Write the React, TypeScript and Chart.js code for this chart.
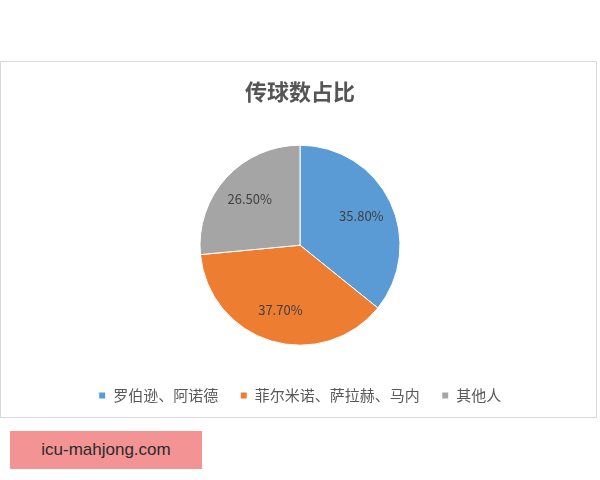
import React, { useEffect, useRef } from 'react'
import Chart from 'chart.js/auto'

const title = '传球数占比'
const categories = ['罗伯逊、阿诺德', '菲尔米诺、萨拉赫、马内', '其他人']
const shares = [35.8, 37.7, 26.5]
const colors = ['#5b9bd5', '#ed7d31', '#a5a5a5']
const watermark = 'icu-mahjong.com'

const sliceLabels = {
    id: 'sliceLabels',
    afterDatasetsDraw(chart: any) {
        const ctx = chart.ctx
        const meta = chart.getDatasetMeta(0)
        ctx.save()
        ctx.font = '13px "Noto Sans CJK SC", "Noto Sans", sans-serif'
        ctx.fillStyle = '#404040'
        ctx.textAlign = 'center'
        ctx.textBaseline = 'middle'
        meta.data.forEach((arc: any, i: number) => {
            const { x, y, startAngle, endAngle, outerRadius } = arc.getProps(['x', 'y', 'startAngle', 'endAngle', 'outerRadius'])
            const mid = (startAngle + endAngle) / 2
            const r = outerRadius * 0.68
            ctx.fillText(shares[i].toFixed(2) + '%', x + Math.cos(mid) * r, y + Math.sin(mid) * r)
        })
        ctx.restore()
    }
}

const PieChart: React.FC = () => {
    const chartRef = useRef<HTMLCanvasElement>(null)
    const chartInstance = useRef<Chart | null>(null)

    useEffect(() => {
        if (!chartRef.current) return
        Chart.defaults.font.family = '"Noto Sans CJK SC", "Noto Sans", sans-serif'
        if (chartInstance.current) chartInstance.current.destroy()

        chartInstance.current = new Chart(chartRef.current, {
            type: 'pie',
            data: {
                labels: categories,
                datasets: [{
                    data: shares,
                    backgroundColor: colors,
                    borderColor: '#ffffff',
                    borderWidth: 1,
                    radius: 100
                } as any]
            },
            options: {
                animation: false,
                responsive: true,
                maintainAspectRatio: false,
                layout: { padding: { left: 3, bottom: 4 } },
                plugins: {
                    title: {
                        display: true,
                        text: title,
                        color: '#555555',
                        font: { size: 22, weight: 'bold' },
                        padding: { top: 16, bottom: 20 }
                    },
                    legend: {
                        position: 'bottom',
                        labels: {
                            boxWidth: 7,
                            boxHeight: 7,
                            padding: 22,
                            color: '#595959',
                            font: { size: 15 }
                        }
                    },
                    tooltip: { enabled: false }
                }
            },
            plugins: [sliceLabels]
        })

        return () => {
            if (chartInstance.current) {
                chartInstance.current.destroy()
                chartInstance.current = null
            }
        }
    }, [])

    return <canvas ref={chartRef}></canvas>
}

export default function App() {
    return (
        <div style={{ position: 'absolute', left: 0, top: 0, width: 600, height: 480, background: '#ffffff' }}>
            <div style={{ position: 'absolute', left: 0, top: 61, width: 595, height: 355, border: '1px solid #d9d9d9', background: '#ffffff' }}>
                <div style={{ position: 'relative', width: '100%', height: '100%' }}>
                    <PieChart />
                </div>
            </div>
            <div style={{
                position: 'absolute', left: 10, top: 431, width: 192, height: 38,
                background: '#f39393', color: '#2b2b2b',
                font: '17px "Liberation Sans", Arial, sans-serif',
                display: 'flex', alignItems: 'center', justifyContent: 'center'
            }}>{watermark}</div>
        </div>
    )
}
